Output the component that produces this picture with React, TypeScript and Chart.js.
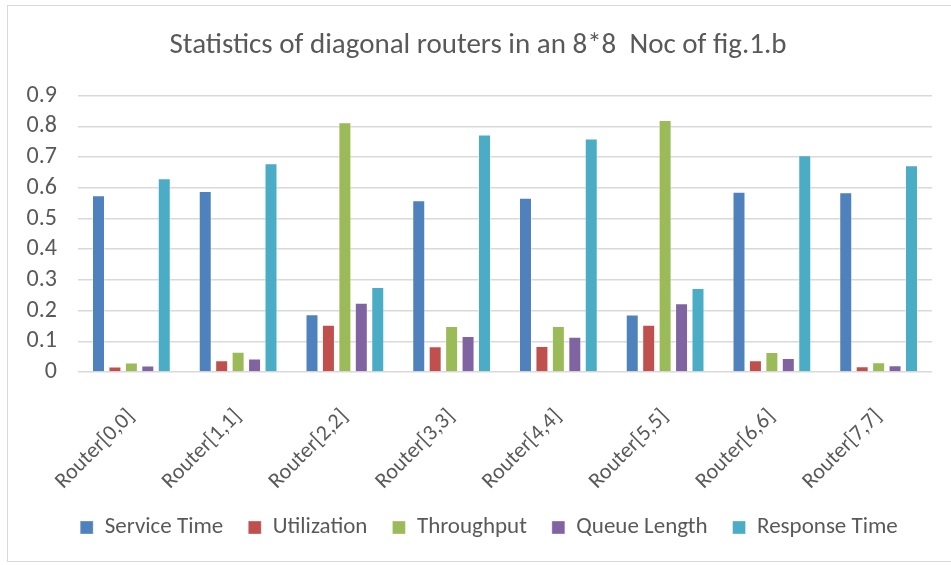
import React, { useEffect, useRef } from "react";
import { Chart, registerables } from "chart.js";

Chart.register(...registerables);

const categories = [
  "Router[0,0]",
  "Router[1,1]",
  "Router[2,2]",
  "Router[3,3]",
  "Router[4,4]",
  "Router[5,5]",
  "Router[6,6]",
  "Router[7,7]",
];

const serviceTime = [0.576, 0.59, 0.188, 0.56, 0.568, 0.187, 0.587, 0.586];
const utilization = [0.018, 0.038, 0.154, 0.084, 0.085, 0.154, 0.038, 0.019];
const throughput = [0.031, 0.066, 0.814, 0.15, 0.15, 0.821, 0.065, 0.032];
const queueLength = [0.021, 0.044, 0.226, 0.117, 0.115, 0.224, 0.046, 0.022];
const responseTime = [0.631, 0.68, 0.277, 0.774, 0.761, 0.274, 0.706, 0.674];

const yTicks = [0, 0.1, 0.2, 0.3, 0.4, 0.5, 0.6, 0.7, 0.8, 0.9];

const FONT = "Carlito, Lato, 'Open Sans', sans-serif";
const TEXT = "#595959";

const legendShift = {
  id: "legendShift",
  afterLayout(chart: any) {
    if (chart.legend) {
      chart.legend.left += 11;
      chart.legend.right += 11;
    }
  },
};

export default function App() {
  const ref = useRef<HTMLCanvasElement | null>(null);

  useEffect(() => {
    if (!ref.current) return;
    const mk = (label: string, data: number[], color: string) => ({
      label,
      data,
      backgroundColor: color,
      borderColor: "rgba(255,255,255,0.35)",
      borderWidth: 1,
      categoryPercentage: 0.77,
      barPercentage: 0.79,
    });
    const chart = new Chart(ref.current, {
      type: "bar",
      data: {
        labels: categories,
        datasets: [
          mk("Service Time", serviceTime, "#4F81BD"),
          mk("Utilization", utilization, "#C0504D"),
          mk("Throughput", throughput, "#9BBB59"),
          mk("Queue Length", queueLength, "#8064A2"),
          mk("Response Time", responseTime, "#4BACC6"),
        ],
      },
      plugins: [legendShift],
      options: {
        animation: false,
        responsive: false,
        maintainAspectRatio: false,
        layout: { padding: { left: 24, right: 19, top: 0, bottom: 16 } },
        plugins: {
          title: {
            display: true,
            text: "Statistics of diagonal routers in an 8*8  Noc of fig.1.b",
            color: TEXT,
            font: { family: FONT, size: 29, weight: "normal" },
            padding: { top: 28, bottom: 33 },
          },
          legend: {
            position: "bottom",
            labels: {
              color: TEXT,
              font: { family: FONT, size: 23 },
              boxWidth: 13,
              boxHeight: 13,
              padding: 25,
            },
          },
          tooltip: { enabled: false },
        },
        scales: {
          x: {
            grid: { display: false },
            border: { display: false },
            afterFit: (s: any) => {
              s.paddingLeft = 0;
              s.paddingRight = 0;
              s.height = 119;
            },
            ticks: {
              color: TEXT,
              font: { family: FONT, size: 22 },
              minRotation: 45,
              maxRotation: 45,
              autoSkip: false,
              padding: 24,
            },
          },
          y: {
            min: 0,
            max: 0.9,
            afterBuildTicks: (axis: any) => {
              axis.ticks = yTicks.map((v) => ({ value: v }));
            },
            afterFit: (s: any) => {
              s.width = 54;
            },
            grid: { color: "#D9D9D9", lineWidth: 1.5, drawTicks: false },
            border: { display: false },
            ticks: {
              color: TEXT,
              font: { family: FONT, size: 24 },
              padding: 21,
              autoSkip: false,
              callback: (v: any) => String(Math.round(Number(v) * 10) / 10),
            },
          },
        },
      },
    });
    return () => chart.destroy();
  }, []);

  return (
    <div style={{ position: "absolute", left: 0, top: 0, width: 951, height: 565, background: "#fff" }}>
      <div
        style={{
          position: "absolute",
          left: 7,
          top: 5,
          width: 960,
          height: 557,
          borderLeft: "1px solid #D9D9D9",
          borderTop: "1px solid #D9D9D9",
          borderBottom: "1px solid #D9D9D9",
          boxSizing: "border-box",
        }}
      />
      <canvas ref={ref} width={951} height={565} style={{ position: "absolute", left: 0, top: 0 }} />
    </div>
  );
}
